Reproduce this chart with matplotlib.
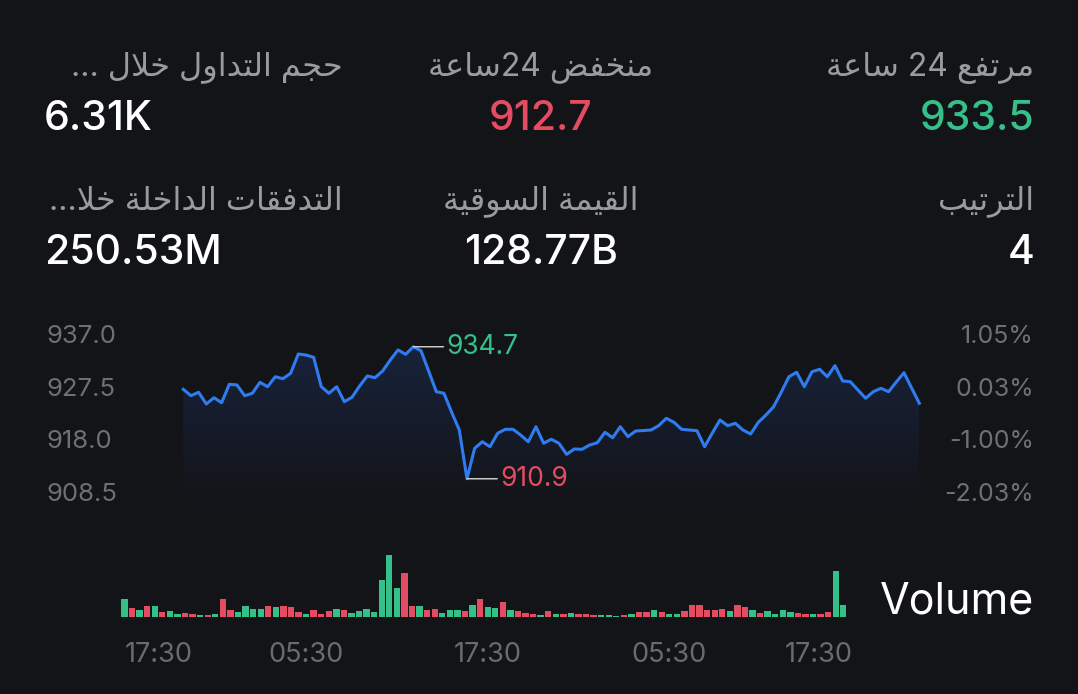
import re
import numpy as np
import matplotlib
matplotlib.use("Agg")
import matplotlib.pyplot as plt
import matplotlib.transforms as mtransforms

W, H = 1078, 694
BG = "#131417"
GREEN = "#35c08a"
RED = "#e64c61"
BLUE = "#2f7cf0"

# --- header stats (label, value) ---
stat_labels = ["مرتفع 24 ساعة", "منخفض 24ساعة", "حجم التداول خلال ...",
               "الترتيب", "القيمة السوقية", "التدفقات الداخلة خلا..."]
stat_values = ["933.5", "912.7", "6.31K", "4", "128.77B", "250.53M"]
stat_colors = [GREEN, RED, "white", "white", "white", "white"]

# --- price line (one point per step) ---
prices = [927.03, 925.88, 926.49, 924.38, 925.52, 924.61, 927.93, 927.81, 925.88, 926.31,
          928.29, 927.50, 929.30, 928.94, 929.92, 933.39, 933.21, 932.80, 927.50, 926.31,
          927.50, 924.80, 925.59, 927.63, 929.43, 929.12, 930.33, 932.31, 934.12, 933.34,
          934.70, 933.99, 930.33, 926.60, 926.31, 922.90, 919.69, 910.90, 916.39, 917.58,
          916.68, 919.10, 919.82, 919.82, 918.79, 917.58, 920.29, 917.30, 918.02, 917.30,
          915.31, 916.27, 916.21, 916.99, 917.40, 919.28, 918.30, 920.29, 918.49, 919.51,
          919.60, 919.69, 920.47, 921.80, 921.08, 919.82, 919.69, 919.57, 916.68, 919.15,
          921.50, 920.47, 920.90, 919.69, 918.97, 921.08, 922.40, 923.89, 926.54, 929.30,
          930.10, 927.50, 930.20, 930.64, 929.30, 931.29, 928.53, 928.40, 926.90, 925.41,
          926.60, 927.21, 926.60, 928.35, 930.02, 927.26, 924.51]
price_ticks = [937.0, 927.5, 918.0, 908.5]
pct_labels = ["1.05%", "0.03%", "-1.00%", "-2.03%"]

# --- volume bars ---
volume = [53, 27, 22, 32, 33, 15, 17, 8, 13, 10, 6, 5, 10, 53, 22, 15, 33, 23, 23, 34,
          31, 33, 31, 14, 8, 20, 8, 17, 23, 21, 11, 18, 23, 16, 112, 185, 87, 132, 33, 33,
          20, 23, 13, 20, 20, 17, 37, 55, 30, 27, 44, 22, 17, 12, 10, 5, 17, 10, 10, 12,
          8, 8, 7, 7, 6, 4, 5, 9, 15, 16, 20, 14, 9, 9, 19, 37, 35, 22, 22, 24,
          17, 36, 31, 22, 12, 17, 10, 20, 15, 12, 10, 9, 9, 14, 138, 37]
vol_dir = ("grgrgrggrr" "grgrrggggr" "grrrgrrrgr" "gggggggrrg" "rrgggrgrgg"
           "rgrrrgrgrg" "rrrgggrgrr" "grggrrrrrr" "grrgrggggr" "rgrrgg")
time_ticks = [0, 24, 48, 72, 95]
time_labels = ["17:30", "05:30", "17:30", "05:30", "17:30"]

# Arabic joining forms: isolated, final, initial, medial
FORMS = {
    "ا": ("\uFE8D", "\uFE8E", None, None), "ب": ("\uFE8F", "\uFE90", "\uFE91", "\uFE92"),
    "ة": ("\uFE93", "\uFE94", None, None), "ت": ("\uFE95", "\uFE96", "\uFE97", "\uFE98"),
    "ج": ("\uFE9D", "\uFE9E", "\uFE9F", "\uFEA0"), "ح": ("\uFEA1", "\uFEA2", "\uFEA3", "\uFEA4"),
    "خ": ("\uFEA5", "\uFEA6", "\uFEA7", "\uFEA8"), "د": ("\uFEA9", "\uFEAA", None, None),
    "ر": ("\uFEAD", "\uFEAE", None, None), "س": ("\uFEB1", "\uFEB2", "\uFEB3", "\uFEB4"),
    "ض": ("\uFEBD", "\uFEBE", "\uFEBF", "\uFEC0"), "ع": ("\uFEC9", "\uFECA", "\uFECB", "\uFECC"),
    "ف": ("\uFED1", "\uFED2", "\uFED3", "\uFED4"), "ق": ("\uFED5", "\uFED6", "\uFED7", "\uFED8"),
    "ل": ("\uFEDD", "\uFEDE", "\uFEDF", "\uFEE0"), "م": ("\uFEE1", "\uFEE2", "\uFEE3", "\uFEE4"),
    "ن": ("\uFEE5", "\uFEE6", "\uFEE7", "\uFEE8"), "و": ("\uFEED", "\uFEEE", None, None),
    "ي": ("\uFEF1", "\uFEF2", "\uFEF3", "\uFEF4"),
}


def shape(text):
    # matplotlib has no arabic shaping -> pick glyph forms and flip to visual order
    letters, i = [], 0
    while i < len(text):
        if text[i] == "ل" and text[i + 1:i + 2] == "ا":
            letters.append("LA")
            i += 2
        else:
            letters.append(text[i])
            i += 1

    def links_next(c):
        return c in FORMS and FORMS[c][2] is not None

    out = []
    for k, c in enumerate(letters):
        prev = letters[k - 1] if k > 0 else ""
        nxt = letters[k + 1] if k + 1 < len(letters) else ""
        joined_prev = links_next(prev)
        if c == "LA":
            out.append("\uFEFC" if joined_prev else "\uFEFB")
        elif c in FORMS:
            iso, fin, ini, med = FORMS[c]
            joined_next = links_next(c) and (nxt in FORMS or nxt == "LA")
            if joined_prev and joined_next:
                out.append(med)
            elif joined_prev:
                out.append(fin)
            elif joined_next:
                out.append(ini)
            else:
                out.append(iso)
        else:
            out.append(c)
    vis = "".join(out)[::-1]
    return re.sub(r"[0-9]+", lambda m: m.group(0)[::-1], vis)


plt.rcParams["font.family"] = ["Inter", "DejaVu Sans"]

fig = plt.figure(figsize=(W / 100, H / 100), dpi=100, facecolor=BG)


def fx(px):
    return px / W


def fy(py):
    return 1 - py / H


# header grid: right column right-aligned, middle centred, left column mixed
cols = [(1034, "right", 1035, "right"), (541, "center", 541, "center"), (343, "right", 44, "left")]
for n in range(6):
    row, col = divmod(n, 3)
    lx, lha, vx, vha = cols[col]
    base = 75.7 + row * 134
    fig.text(fx(lx), fy(base), shape(stat_labels[n]), ha=lha, va="baseline",
             fontsize=23, color="#9a9b9e")
    fig.text(fx(vx), fy(base + 54.5), stat_values[n], ha=vha, va="baseline",
             fontsize=29.5, color=stat_colors[n], fontweight="medium")

# --- price chart ---
ax = fig.add_axes([fx(183.3), fy(503), fx(919.3) - fx(183.3), (503 - 334) / H])
ax.set_facecolor("none")
x = np.arange(len(prices))
p = np.array(prices)
ax.set_xlim(0, len(prices) - 1)
ax.set_ylim(937 - (503 - 334) / 5.547, 937)

ax.plot(x, p, color=BLUE, lw=2.2, solid_joinstyle="round", clip_on=False, zorder=3)
poly = ax.fill_between(x, p, ax.get_ylim()[0], color="none", lw=0)
rgba = np.zeros((256, 1, 4))
rgba[..., 0], rgba[..., 1], rgba[..., 2] = 0.18, 0.38, 0.85
rgba[..., 3] = np.linspace(0.19, 0.01, 256).reshape(-1, 1)
img = ax.imshow(rgba, aspect="auto", extent=[0, len(prices) - 1, ax.get_ylim()[0], p.max()],
                origin="upper", zorder=1)
img.set_clip_path(poly.get_paths()[0], transform=ax.transData)

for s in ax.spines.values():
    s.set_visible(False)
ax.set_xticks([])
ax.set_yticks(price_ticks)
ax.set_yticklabels([f"{v:.1f}" for v in price_ticks])
ax.tick_params(axis="y", length=0, pad=(183.3 - 46) * 0.72, labelsize=18.5, labelcolor="#6f7074")
for lb in ax.get_yticklabels():
    lb.set_ha("left")

ax2 = ax.twinx()
ax2.set_ylim(ax.get_ylim())
ax2.set_yticks(price_ticks)
ax2.set_yticklabels(pct_labels)
ax2.tick_params(axis="y", length=0, pad=(1034 - 919.3) * 0.72, labelsize=18, labelcolor="#6f7074")
for lb in ax2.get_yticklabels():
    lb.set_ha("right")
for s in ax2.spines.values():
    s.set_visible(False)

imax, imin = int(np.argmax(p)), int(np.argmin(p))
for i, col in [(imax, GREEN), (imin, RED)]:
    ax.annotate(f"{p[i]:.1f}", xy=(i, p[i]), xytext=(33, 0), textcoords="offset pixels",
                ha="left", va="center", fontsize=19, color=col,
                arrowprops=dict(arrowstyle="-", color="#d8d8d8", lw=1, shrinkA=0, shrinkB=0),
                zorder=4)

# --- volume ---
axv = fig.add_axes([fx(120.7), fy(617), fx(847.1) - fx(120.7), 64 / H])
axv.set_facecolor("none")
xv = np.arange(len(volume))
axv.bar(xv, volume, width=0.84, color=[GREEN if d == "g" else RED for d in vol_dir], lw=0)
axv.set_xlim(-0.5, len(volume) - 0.5)
axv.set_ylim(0, 192)
axv.axis("off")
tr = mtransforms.blended_transform_factory(axv.transData, fig.transFigure)
for k, (t, lab) in enumerate(zip(time_ticks, time_labels)):
    ha = "left" if k == 0 else ("right" if k == len(time_ticks) - 1 else "center")
    xt = t if k == 0 else (t + 1.2 if ha == "right" else t)
    axv.text(xt, fy(662.4), lab, transform=tr, ha=ha, va="baseline", fontsize=19.5,
             color="#6a6b6f")

fig.text(fx(1034), fy(613), "Volume", ha="right", va="baseline", fontsize=31, color="white")

fig.savefig("out.png", dpi=100, facecolor=BG)
